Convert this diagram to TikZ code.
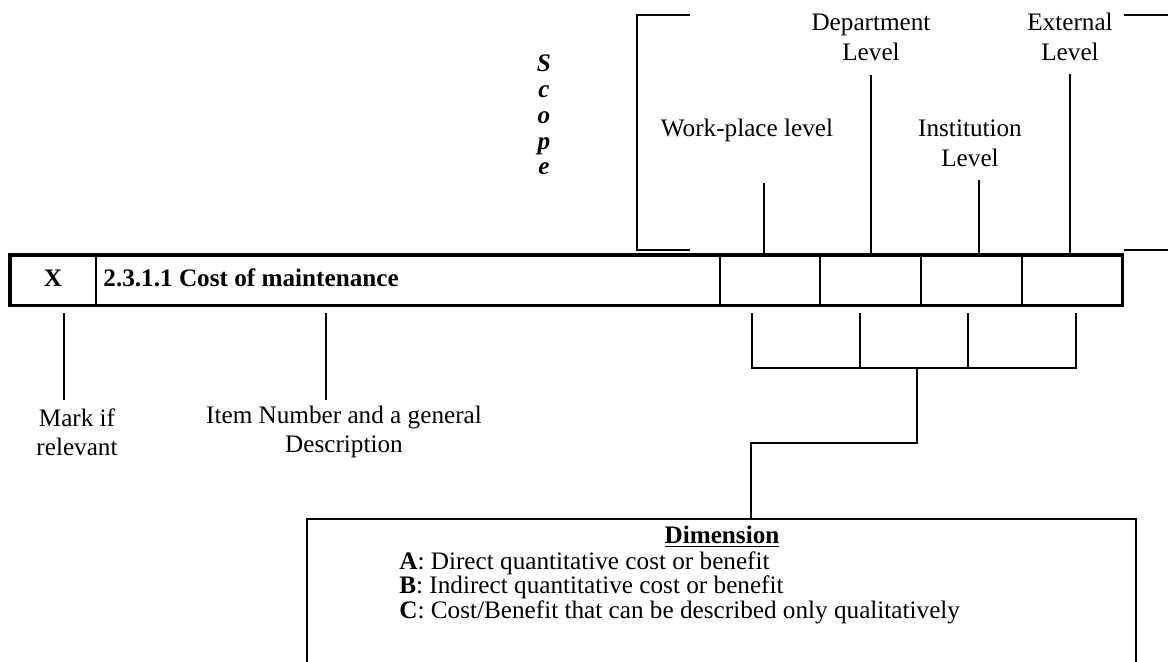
\documentclass[tikz,border=0pt]{standalone}
\usepackage{fontspec}
\setmainfont{Liberation Serif}
\begin{document}
\begin{tikzpicture}[x=0.5pt,y=-0.5pt,
  every node/.style={font=\fontsize{12.6}{15}\selectfont},
  cell/.style={draw, line width=0.8pt, minimum height=24.5pt, inner sep=0pt, anchor=north west},
  lbl/.style={align=center, inner sep=0pt},
  bold text/.style={inner sep=0pt, font=\fontsize{12.6}{15}\selectfont\bfseries},
  thin line/.style={line width=0.6pt},
  thick line/.style={line width=1.2pt}]
\useasboundingbox (0,0) rectangle (1168,662);
% main row
\node[cell, minimum width=42.5pt] (cx) at (10,255) {};
\node[cell, minimum width=312pt] (cd) at (95,255) {};
\node[cell, minimum width=50pt] (c1) at (719,255) {};
\node[cell, minimum width=50.5pt] (c2) at (819,255) {};
\node[cell, minimum width=50.5pt] (c3) at (920,255) {};
\node[cell, minimum width=50pt] (c4) at (1021,255) {};
\draw[line width=1.6pt] (cx.north west) rectangle (c4.south east);
\node[bold text] (xt) at (53,278) {X};
\node[bold text, anchor=west] (dt) at (103,278) {2.3.1.1 Cost of maintenance};
% scope
\node[align=center, inner sep=0pt, font=\fontsize{12.6}{12.9}\selectfont\bfseries\itshape] (scope) at (544,115) {S\\c\\o\\p\\e};
% brackets
\draw[thin line] (690,15) -- (637,15) -- (637,250) -- (690,250);
\draw[thin line] (1124,15) -- (1168,15);
\draw[thin line] (1124,250) -- (1168,250);
% level labels
\node[lbl] (dep) at (871,37) {Department\\Level};
\node[lbl] (ext) at (1070,37) {External\\Level};
\node[lbl] (wpl) at (747,130) {Work-place level};
\node[lbl] (ins) at (970,143) {Institution\\Level};
\coordinate (t1) at (764,183);
\coordinate (t2) at (871,75);
\coordinate (t3) at (979,180);
\coordinate (t4) at (1070,74);
\draw[thin line] (t1) -- (t1 |- c1.north);
\draw[thin line] (t2) -- (t2 |- c2.north);
\draw[thin line] (t3) -- (t3 |- c3.north);
\draw[thin line] (t4) -- (t4 |- c4.north);
% below labels
\node[lbl, font=\fontsize{12.6}{14.5}\selectfont] (mark) at (77,432) {Mark if\\relevant};
\node[lbl, font=\fontsize{12.6}{14.5}\selectfont] (item) at (344,432) {Item Number and a general\\Description};
\coordinate (m0) at (64,313);
\coordinate (i0) at (326,313);
\draw[thin line] (m0) -- (64,400);
\draw[thin line] (i0) -- (326,400);
% dimension bracket
\coordinate (b1) at (752,313);
\coordinate (b2) at (860,313);
\coordinate (b3) at (968,313);
\coordinate (b4) at (1076,313);
\coordinate (bm) at (917,368);
\draw[thin line] (b1) -- (752,368) -- (1076,368) -- (b4);
\draw[thin line] (b2) -- (860,368);
\draw[thin line] (b3) -- (968,368);
% dimension box
\coordinate (dl) at (307,662);
\coordinate (dr) at (1136,662);
\draw[thin line] (dl) -- (307,519) -- (1136,519) -- (dr);
\draw[thick line] (bm) -- (917,443) -- (751,443) -- (751,519);
\node[bold text] (dim) at (722,537) {\underline{Dimension}};
\node[anchor=north west, align=left, inner sep=0pt, font=\fontsize{12.6}{12.3}\selectfont] (dimtext) at (399,551)
  {\textbf{A}: Direct quantitative cost or benefit\\
   \textbf{B}: Indirect quantitative cost or benefit\\
   \textbf{C}: Cost/Benefit that can be described only qualitatively};
\end{tikzpicture}
\end{document}
